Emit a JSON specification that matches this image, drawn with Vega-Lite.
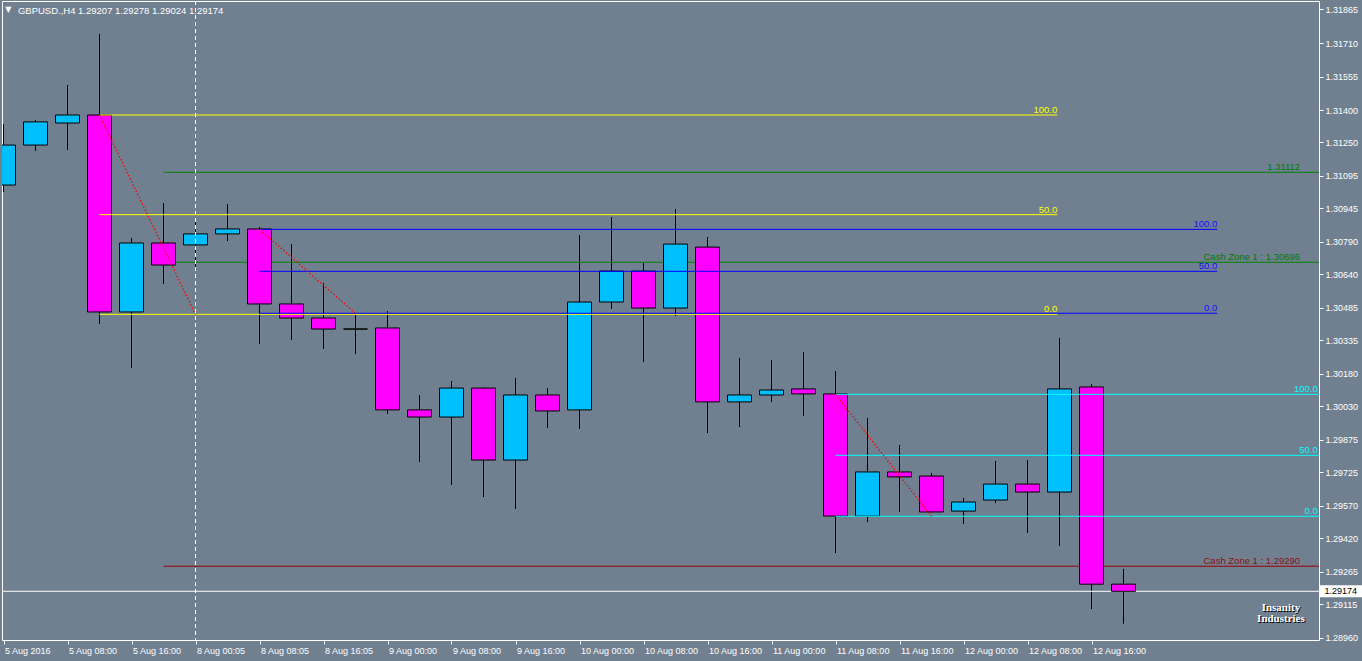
{
  "$schema": "https://vega.github.io/schema/vega-lite/v6.json",
  "width": 1317,
  "height": 639,
  "autosize": {"type": "none"},
  "padding": {"left": 2, "top": 1, "right": 43, "bottom": 21},
  "background": "#708090",
  "config": {"view": {"stroke": "#FFFFFF", "strokeWidth": 1}, "font": "Liberation Sans", "scale": {"continuousPadding": 0}, "axis": {"labelOverlap": false, "labelFlush": false, "labelBound": false}},
  "resolve": {"scale": {"color": "independent"}},
  "datasets": {
    "candles": [
      {"i": 0, "dir": "up", "o": 1.31053, "h": 1.31335, "l": 1.31021, "c": 1.31238},
      {"i": 1, "dir": "up", "o": 1.31238, "h": 1.31354, "l": 1.31211, "c": 1.31345},
      {"i": 2, "dir": "up", "o": 1.31340, "h": 1.31516, "l": 1.31215, "c": 1.31377},
      {"i": 3, "dir": "down", "o": 1.31377, "h": 1.31752, "l": 1.30410, "c": 1.30466},
      {"i": 4, "dir": "up", "o": 1.30466, "h": 1.30808, "l": 1.30207, "c": 1.30785},
      {"i": 5, "dir": "down", "o": 1.30785, "h": 1.30970, "l": 1.30595, "c": 1.30683},
      {"i": 6, "dir": "up", "o": 1.30776, "h": 1.30896, "l": 1.30665, "c": 1.30827},
      {"i": 7, "dir": "up", "o": 1.30827, "h": 1.30965, "l": 1.30794, "c": 1.30850},
      {"i": 8, "dir": "down", "o": 1.30850, "h": 1.30859, "l": 1.30318, "c": 1.30503},
      {"i": 9, "dir": "down", "o": 1.30503, "h": 1.30780, "l": 1.30336, "c": 1.30438},
      {"i": 10, "dir": "down", "o": 1.30438, "h": 1.30600, "l": 1.30295, "c": 1.30387},
      {"i": 11, "dir": "down", "o": 1.30387, "h": 1.30452, "l": 1.30272, "c": 1.30387},
      {"i": 12, "dir": "down", "o": 1.30392, "h": 1.30470, "l": 1.29994, "c": 1.30013},
      {"i": 13, "dir": "down", "o": 1.30013, "h": 1.30082, "l": 1.29772, "c": 1.29980},
      {"i": 14, "dir": "up", "o": 1.29980, "h": 1.30147, "l": 1.29666, "c": 1.30114},
      {"i": 15, "dir": "down", "o": 1.30114, "h": 1.30116, "l": 1.29610, "c": 1.29781},
      {"i": 16, "dir": "up", "o": 1.29781, "h": 1.30161, "l": 1.29555, "c": 1.30082},
      {"i": 17, "dir": "down", "o": 1.30082, "h": 1.30114, "l": 1.29929, "c": 1.30008},
      {"i": 18, "dir": "up", "o": 1.30013, "h": 1.30822, "l": 1.29925, "c": 1.30512},
      {"i": 19, "dir": "up", "o": 1.30512, "h": 1.30905, "l": 1.30480, "c": 1.30655},
      {"i": 20, "dir": "down", "o": 1.30655, "h": 1.30692, "l": 1.30235, "c": 1.30484},
      {"i": 21, "dir": "up", "o": 1.30484, "h": 1.30942, "l": 1.30447, "c": 1.30780},
      {"i": 22, "dir": "down", "o": 1.30766, "h": 1.30813, "l": 1.29906, "c": 1.30050},
      {"i": 23, "dir": "up", "o": 1.30050, "h": 1.30253, "l": 1.29934, "c": 1.30082},
      {"i": 24, "dir": "up", "o": 1.30082, "h": 1.30244, "l": 1.30050, "c": 1.30105},
      {"i": 25, "dir": "down", "o": 1.30110, "h": 1.30281, "l": 1.29985, "c": 1.30087},
      {"i": 26, "dir": "down", "o": 1.30087, "h": 1.30193, "l": 1.29351, "c": 1.29522},
      {"i": 27, "dir": "up", "o": 1.29522, "h": 1.29976, "l": 1.29494, "c": 1.29726},
      {"i": 28, "dir": "down", "o": 1.29726, "h": 1.29851, "l": 1.29541, "c": 1.29703},
      {"i": 29, "dir": "down", "o": 1.29707, "h": 1.29721, "l": 1.29538, "c": 1.29541},
      {"i": 30, "dir": "up", "o": 1.29545, "h": 1.29606, "l": 1.29485, "c": 1.29587},
      {"i": 31, "dir": "up", "o": 1.29596, "h": 1.29777, "l": 1.29582, "c": 1.29670},
      {"i": 32, "dir": "down", "o": 1.29670, "h": 1.29781, "l": 1.29444, "c": 1.29633},
      {"i": 33, "dir": "up", "o": 1.29633, "h": 1.30346, "l": 1.29384, "c": 1.30110},
      {"i": 34, "dir": "down", "o": 1.30119, "h": 1.30133, "l": 1.29092, "c": 1.29207},
      {"i": 35, "dir": "down", "o": 1.29207, "h": 1.29278, "l": 1.29024, "c": 1.29174}
    ],
    "levels": [
      {"kind": "zone", "grp": "zoneG", "i1": 5, "i2": 41.2, "p": 1.31112},
      {"kind": "zone", "grp": "zoneG", "i1": 5, "i2": 41.2, "p": 1.30696},
      {"kind": "zone", "grp": "zoneR", "i1": 5, "i2": 41.2, "p": 1.29290},
      {"kind": "zone", "grp": "price", "i1": -0.1, "i2": 41.2, "p": 1.29174},
      {"kind": "fib", "grp": "fibA", "i1": 3, "i2": 32.93, "p": 1.31377},
      {"kind": "fib", "grp": "fibA", "i1": 3, "i2": 32.93, "p": 1.30916},
      {"kind": "fib", "grp": "fibA", "i1": 3, "i2": 32.93, "p": 1.30455},
      {"kind": "fib", "grp": "fibB", "i1": 8, "i2": 37.93, "p": 1.30848},
      {"kind": "fib", "grp": "fibB", "i1": 8, "i2": 37.93, "p": 1.30654},
      {"kind": "fib", "grp": "fibB", "i1": 8, "i2": 37.93, "p": 1.30460},
      {"kind": "fib", "grp": "fibC", "i1": 26, "i2": 41.2, "p": 1.30085},
      {"kind": "fib", "grp": "fibC", "i1": 26, "i2": 41.2, "p": 1.29803},
      {"kind": "fib", "grp": "fibC", "i1": 26, "i2": 41.2, "p": 1.29521}
    ],
    "labels": [
      {"text": "100.0", "grp": "fibA", "i": 32.93, "p": 1.31377},
      {"text": "50.0", "grp": "fibA", "i": 32.93, "p": 1.30916},
      {"text": "0.0", "grp": "fibA", "i": 32.93, "p": 1.30455},
      {"text": "100.0", "grp": "fibB", "i": 37.93, "p": 1.30848},
      {"text": "50.0", "grp": "fibB", "i": 37.93, "p": 1.30654},
      {"text": "0.0", "grp": "fibB", "i": 37.93, "p": 1.30460},
      {"text": "100.0", "grp": "fibC", "i": 41.07, "p": 1.30085},
      {"text": "50.0", "grp": "fibC", "i": 41.07, "p": 1.29803},
      {"text": "0.0", "grp": "fibC", "i": 41.07, "p": 1.29521},
      {"text": "1.31112", "grp": "zoneG", "i": 40.52, "p": 1.31112},
      {"text": "Cash Zone 1 : 1.30696", "grp": "zoneG", "i": 40.52, "p": 1.30696},
      {"text": "Cash Zone 1 : 1.29290", "grp": "zoneR", "i": 40.52, "p": 1.29290}
    ],
    "diagonals": [
      {"d": "A", "i": 3, "p": 1.31377},
      {"d": "A", "i": 6, "p": 1.30455},
      {"d": "B", "i": 8, "p": 1.30848},
      {"d": "B", "i": 11, "p": 1.30460},
      {"d": "C", "i": 26, "p": 1.30085},
      {"d": "C", "i": 29, "p": 1.29521}
    ],
    "vline": [{"i": 6}],
    "tag": [{"i": 41.14, "i2": 42.5, "ti": 41.28, "p": 1.29174, "text": "1.29174"}],
    "header": [{"text": "GBPUSD.,H4  1.29207 1.29278 1.29024 1.29174", "i": 0.45, "p": 1.31846, "mi": 0.15, "mp": 1.31863}],
    "logo": [
      {"text": "Insanity", "i": 39.92, "p": 1.29083},
      {"text": "Industries", "i": 39.92, "p": 1.29032}
    ]
  },
  "layer": [
    {
      "data": {"name": "candles"},
      "mark": {"type": "rule", "color": "#000000", "strokeWidth": 1, "clip": true},
      "encoding": {
        "x": {"field": "i", "type": "quantitative", "title": null, "scale": {"domain": [-0.046875, 41.109375], "nice": false, "zero": false},
          "axis": {"orient": "bottom", "values": [0, 2, 4, 6, 8, 10, 12, 14, 16, 18, 20, 22, 24, 26, 28, 30, 32, 34], "tickCount": 40,
            "labelExpr": "['5 Aug 2016','5 Aug 08:00','5 Aug 16:00','8 Aug 00:05','8 Aug 08:05','8 Aug 16:05','9 Aug 00:00','9 Aug 08:00','9 Aug 16:00','10 Aug 00:00','10 Aug 08:00','10 Aug 16:00','11 Aug 00:00','11 Aug 08:00','11 Aug 16:00','12 Aug 00:00','12 Aug 08:00','12 Aug 16:00'][round(datum.value/2)]",
            "labelAlign": "left", "labelOffset": 1, "labelPadding": 2, "labelBaseline": "top", "tickSize": 4, "tickColor": "#FFFFFF",
            "labelColor": "#FFFFFF", "labelFontSize": 9, "labelFont": "Liberation Sans", "domain": false, "grid": false, "title": null,
            "labelOverlap": false, "labelFlush": false}},
        "y": {"field": "l", "type": "quantitative", "title": null, "scale": {"domain": [1.289487, 1.319043], "nice": false, "zero": false},
          "axis": {"orient": "right", "values": [1.31865, 1.31710, 1.31555, 1.31400, 1.31250, 1.31095, 1.30945, 1.30790, 1.30640, 1.30485, 1.30335, 1.30180, 1.30030, 1.29875, 1.29725, 1.29570, 1.29420, 1.29265, 1.29115, 1.28960], "tickCount": 40,
            "format": ".5f", "tickSize": 4, "labelPadding": 2, "tickColor": "#FFFFFF", "labelColor": "#FFFFFF", "labelFontSize": 9,
            "labelFont": "Liberation Sans", "domain": false, "grid": false, "title": null, "labelOverlap": false, "labelFlush": false}},
        "y2": {"field": "h"}
      }
    },
    {
      "data": {"name": "levels"},
      "transform": [{"filter": "datum.kind == 'zone'"}],
      "mark": {"type": "rule", "strokeWidth": 1, "clip": true},
      "encoding": {
        "x": {"field": "i1", "type": "quantitative", "title": null, "scale": {"domain": [-0.046875, 41.109375], "nice": false, "zero": false}},
        "x2": {"field": "i2"},
        "y": {"field": "p", "type": "quantitative", "title": null, "scale": {"domain": [1.289487, 1.319043], "nice": false, "zero": false}},
        "color": {"field": "grp", "type": "nominal", "scale": {"domain": ["zoneG", "zoneR", "price"], "range": ["#008000", "#990000", "#FFFFFF"]}, "legend": null}
      }
    },
    {
      "data": {"name": "candles"},
      "mark": {"type": "bar", "size": 24, "stroke": "#000000", "strokeWidth": 1, "clip": true},
      "encoding": {
        "x": {"field": "i", "type": "quantitative", "title": null, "scale": {"domain": [-0.046875, 41.109375], "nice": false, "zero": false}},
        "y": {"field": "o", "type": "quantitative", "title": null, "scale": {"domain": [1.289487, 1.319043], "nice": false, "zero": false}},
        "y2": {"field": "c"},
        "color": {"field": "dir", "type": "nominal", "scale": {"domain": ["up", "down"], "range": ["#00BFFF", "#FF00FF"]}, "legend": null}
      }
    },
    {
      "data": {"name": "levels"},
      "transform": [{"filter": "datum.kind == 'fib'"}],
      "mark": {"type": "rule", "strokeWidth": 1, "clip": true},
      "encoding": {
        "x": {"field": "i1", "type": "quantitative", "title": null, "scale": {"domain": [-0.046875, 41.109375], "nice": false, "zero": false}},
        "x2": {"field": "i2"},
        "y": {"field": "p", "type": "quantitative", "title": null, "scale": {"domain": [1.289487, 1.319043], "nice": false, "zero": false}},
        "color": {"field": "grp", "type": "nominal", "scale": {"domain": ["fibA", "fibB", "fibC"], "range": ["#FFFF00", "#0000FF", "#00FFFF"]}, "legend": null}
      }
    },
    {
      "data": {"name": "diagonals"},
      "mark": {"type": "line", "color": "#FF0000", "strokeWidth": 1.3, "strokeDash": [1.5, 2], "clip": true},
      "encoding": {
        "x": {"field": "i", "type": "quantitative", "title": null, "scale": {"domain": [-0.046875, 41.109375], "nice": false, "zero": false}},
        "y": {"field": "p", "type": "quantitative", "title": null, "scale": {"domain": [1.289487, 1.319043], "nice": false, "zero": false}},
        "detail": {"field": "d", "type": "nominal"}
      }
    },
    {
      "data": {"name": "vline"},
      "mark": {"type": "rule", "color": "#FFFFFF", "strokeWidth": 1, "strokeDash": [4, 3]},
      "encoding": {
        "x": {"field": "i", "type": "quantitative", "title": null, "scale": {"domain": [-0.046875, 41.109375], "nice": false, "zero": false}}
      }
    },
    {
      "data": {"name": "labels"},
      "mark": {"type": "text", "align": "right", "baseline": "alphabetic", "dy": -2, "fontSize": 9.5, "font": "Liberation Sans"},
      "encoding": {
        "x": {"field": "i", "type": "quantitative", "title": null, "scale": {"domain": [-0.046875, 41.109375], "nice": false, "zero": false}},
        "y": {"field": "p", "type": "quantitative", "title": null, "scale": {"domain": [1.289487, 1.319043], "nice": false, "zero": false}},
        "text": {"field": "text"},
        "color": {"field": "grp", "type": "nominal", "scale": {"domain": ["fibA", "fibB", "fibC", "zoneG", "zoneR"], "range": ["#FFFF00", "#1010FF", "#00FFFF", "#007A00", "#8B1010"]}, "legend": null}
      }
    },
    {
      "data": {"name": "tag"},
      "mark": {"type": "rule", "color": "#FFFFFF", "strokeWidth": 12, "strokeCap": "butt", "clip": false},
      "encoding": {
        "x": {"field": "i", "type": "quantitative", "title": null, "scale": {"domain": [-0.046875, 41.109375], "nice": false, "zero": false}},
        "x2": {"field": "i2"},
        "y": {"field": "p", "type": "quantitative", "title": null, "scale": {"domain": [1.289487, 1.319043], "nice": false, "zero": false}}
      }
    },
    {
      "data": {"name": "tag"},
      "mark": {"type": "text", "align": "left", "baseline": "middle", "fontSize": 9, "font": "Liberation Sans", "color": "#000000", "clip": false},
      "encoding": {
        "x": {"field": "ti", "type": "quantitative", "title": null, "scale": {"domain": [-0.046875, 41.109375], "nice": false, "zero": false}},
        "y": {"field": "p", "type": "quantitative", "title": null, "scale": {"domain": [1.289487, 1.319043], "nice": false, "zero": false}},
        "text": {"field": "text"}
      }
    },
    {
      "data": {"name": "header"},
      "mark": {"type": "text", "align": "left", "baseline": "alphabetic", "fontSize": 9.5, "font": "Liberation Sans", "color": "#FFFFFF"},
      "encoding": {
        "x": {"field": "i", "type": "quantitative", "title": null, "scale": {"domain": [-0.046875, 41.109375], "nice": false, "zero": false}},
        "y": {"field": "p", "type": "quantitative", "title": null, "scale": {"domain": [1.289487, 1.319043], "nice": false, "zero": false}},
        "text": {"field": "text"}
      }
    },
    {
      "data": {"name": "header"},
      "mark": {"type": "text", "align": "center", "baseline": "middle", "fontSize": 8, "font": "DejaVu Sans", "color": "#FFFFFF", "text": "▼"},
      "encoding": {
        "x": {"field": "mi", "type": "quantitative", "title": null, "scale": {"domain": [-0.046875, 41.109375], "nice": false, "zero": false}},
        "y": {"field": "mp", "type": "quantitative", "title": null, "scale": {"domain": [1.289487, 1.319043], "nice": false, "zero": false}}
      }
    },
    {
      "data": {"name": "logo"},
      "mark": {"type": "text", "align": "center", "baseline": "alphabetic", "dx": 1, "dy": 1, "fontSize": 11, "fontWeight": "bold", "font": "Liberation Sans Narrow", "color": "#000000"},
      "encoding": {
        "x": {"field": "i", "type": "quantitative", "title": null, "scale": {"domain": [-0.046875, 41.109375], "nice": false, "zero": false}},
        "y": {"field": "p", "type": "quantitative", "title": null, "scale": {"domain": [1.289487, 1.319043], "nice": false, "zero": false}},
        "text": {"field": "text"}
      }
    },
    {
      "data": {"name": "logo"},
      "mark": {"type": "text", "align": "center", "baseline": "alphabetic", "fontSize": 11, "fontWeight": "bold", "font": "Liberation Sans Narrow", "color": "#FFFFFF"},
      "encoding": {
        "x": {"field": "i", "type": "quantitative", "title": null, "scale": {"domain": [-0.046875, 41.109375], "nice": false, "zero": false}},
        "y": {"field": "p", "type": "quantitative", "title": null, "scale": {"domain": [1.289487, 1.319043], "nice": false, "zero": false}},
        "text": {"field": "text"}
      }
    }
  ]
}
